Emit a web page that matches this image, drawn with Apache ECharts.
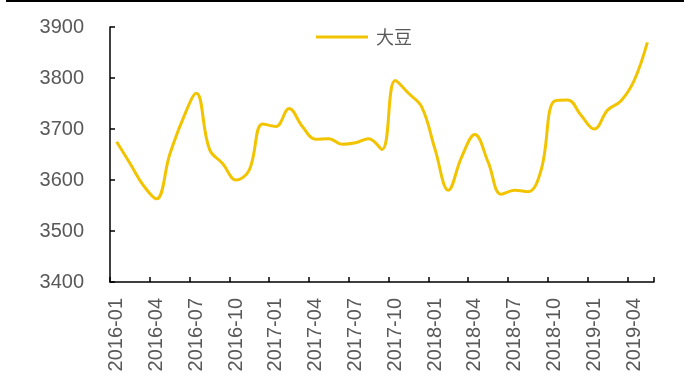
<!DOCTYPE html>
<html>
<head>
<meta charset="utf-8">
<script src="https://cdn.jsdelivr.net/npm/echarts@6/dist/echarts.min.js"></script>
<style>
  html, body { margin: 0; padding: 0; background: #fff; }
  #chart { width: 685px; height: 390px; }
</style>
</head>
<body>
<div id="chart"></div>
<script>
// Monthly soybean price series
const months = [
  '2016-01','2016-02','2016-03','2016-04','2016-05','2016-06','2016-07','2016-08','2016-09','2016-10','2016-11','2016-12',
  '2017-01','2017-02','2017-03','2017-04','2017-05','2017-06','2017-07','2017-08','2017-09','2017-10','2017-11','2017-12',
  '2018-01','2018-02','2018-03','2018-04','2018-05','2018-06','2018-07','2018-08','2018-09','2018-10','2018-11','2018-12',
  '2019-01','2019-02','2019-03','2019-04','2019-05'
];
const seriesName = '大豆';
const soybean = [
  3675, 3633, 3590, 3563, 3650, 3720, 3770, 3660, 3632, 3600, 3620, 3710,
  3705, 3740, 3705, 3680, 3681, 3670, 3673, 3681, 3660, 3795, 3770, 3743,
  3660, 3580, 3645, 3689, 3635, 3572, 3580, 3577, 3620, 3755, 3757, 3727,
  3700, 3737, 3755, 3795, 3870
];
const yMin = 3400, yMax = 3900, yStep = 100;

const lineColor = '#F2C400';
const textColor = '#595959';
const latin = '"Liberation Sans", Arial, sans-serif';

const chart = echarts.init(document.getElementById('chart'), null, { renderer: 'canvas' });
chart.setOption({
  animation: false,
  backgroundColor: '#fff',
  graphic: [{
    type: 'rect',
    shape: { x: 6, y: 0, width: 678, height: 2 },
    style: { fill: '#000' },
    silent: true
  }],
  grid: { left: 110, right: 31, top: 27, bottom: 108, containLabel: false },
  legend: {
    data: [seriesName],
    left: 316,
    top: 28,
    padding: 0,
    icon: 'rect',
    itemWidth: 52,
    itemHeight: 3,
    textStyle: {
      fontSize: 18,
      color: textColor,
      fontFamily: '"Noto Sans CJK SC", sans-serif',
      padding: [0, 0, 0, 3]
    }
  },
  xAxis: {
    type: 'category',
    data: months,
    boundaryGap: true,
    axisLine: { show: true, lineStyle: { color: '#000', width: 1.5 } },
    axisTick: { show: true, inside: true, length: 5, interval: 2, lineStyle: { color: '#000', width: 1.5 } },
    axisLabel: {
      interval: 2,
      rotate: 90,
      margin: 16,
      fontSize: 20,
      color: textColor,
      fontFamily: latin
    },
    splitLine: { show: false }
  },
  yAxis: {
    type: 'value',
    min: yMin,
    max: yMax,
    interval: yStep,
    axisLine: { show: true, lineStyle: { color: '#000', width: 1.5 } },
    axisTick: { show: true, inside: true, length: 5, lineStyle: { color: '#000', width: 1.5 } },
    axisLabel: {
      margin: 26,
      fontSize: 20,
      color: textColor,
      fontFamily: latin,
      formatter: (v) => String(v)
    },
    splitLine: { show: false }
  },
  series: [{
    name: seriesName,
    type: 'line',
    data: soybean,
    smooth: 0.4,
    symbol: 'none',
    lineStyle: { color: lineColor, width: 3 },
    itemStyle: { color: lineColor }
  }]
});
</script>
</body>
</html>
